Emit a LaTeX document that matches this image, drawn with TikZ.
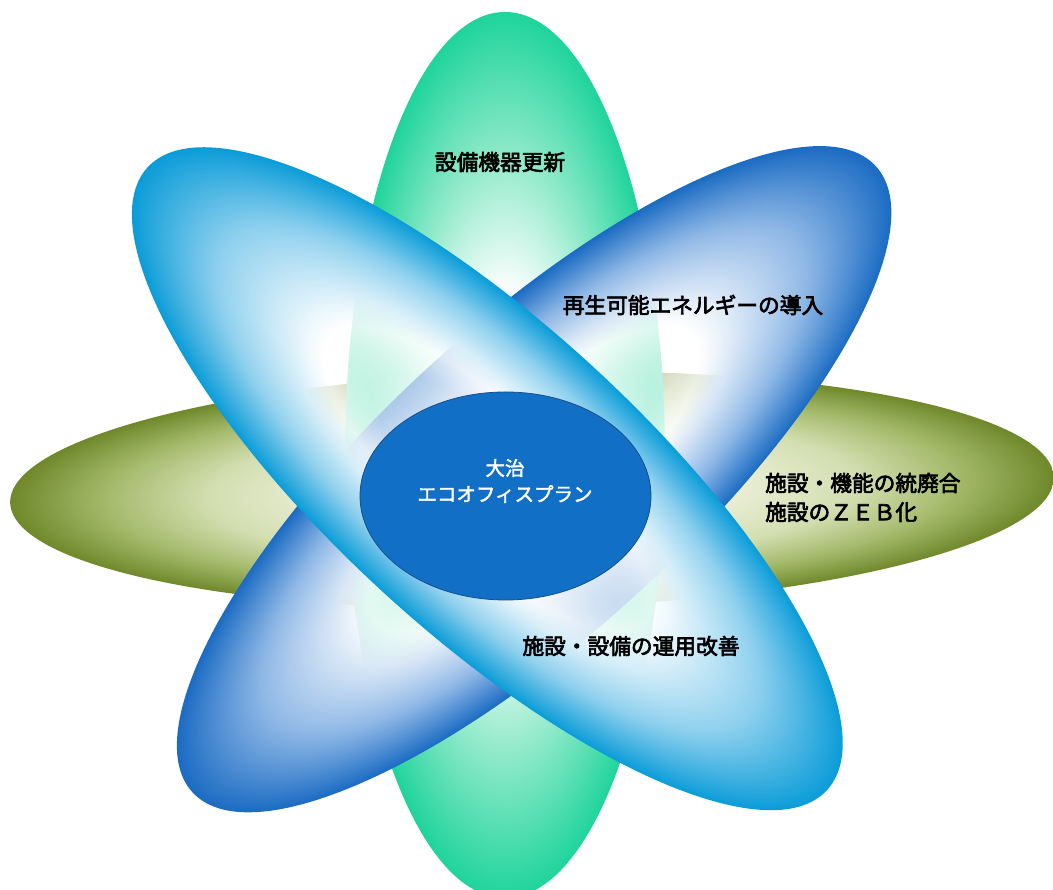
\documentclass[tikz,border=0pt]{standalone}
\usepackage{fontspec}
\setmainfont{Noto Sans CJK JP}
\newfontfamily\capfont{Noto Sans CJK JP}[FakeBold=3]
\newfontfamily\hubfont{Noto Sans CJK JP}[FakeBold=2]
\usetikzlibrary{fadings,shapes.geometric}

% petal colours
\definecolor{oliveedge}{HTML}{6F882A}
\definecolor{olivemid}{HTML}{A3B96A}
\definecolor{olivelight}{HTML}{D3DEB0}
\definecolor{olivecore}{HTML}{EEF1DD}
\definecolor{tealedge}{HTML}{1FD49B}
\definecolor{tealmid}{HTML}{8EE9C9}
\definecolor{backedge}{HTML}{1A6BC3}
\definecolor{backmid}{HTML}{8FB8E6}
\definecolor{frontedge}{HTML}{0A9CD8}
\definecolor{frontmid}{HTML}{8ED0EE}
\definecolor{hubfill}{HTML}{1170C6}
\definecolor{hubline}{HTML}{154F8C}
\colorlet{seethrough}{black}

% radial shadings: 25bp is the rim of the filled path
\pgfdeclareradialshading{olivepetal}{\pgfpointorigin}{%
  color(0bp)=(olivecore); color(10bp)=(olivecore!80!olivelight);
  color(15.5bp)=(olivelight); color(20.5bp)=(olivemid);
  color(25bp)=(oliveedge); color(50bp)=(oliveedge)}
\pgfdeclareradialshading{tealpetal}{\pgfpointorigin}{%
  color(0bp)=(white); color(9bp)=(white);
  color(17bp)=(tealmid); color(25bp)=(tealedge); color(50bp)=(tealedge)}
\pgfdeclareradialshading{backpetal}{\pgfpointorigin}{%
  color(0bp)=(white); color(11.5bp)=(white);
  color(19bp)=(backmid); color(25bp)=(backedge); color(50bp)=(backedge)}
\pgfdeclareradialshading{frontpetal}{\pgfpointorigin}{%
  color(0bp)=(white); color(11.5bp)=(white);
  color(19bp)=(frontmid); color(25bp)=(frontedge); color(50bp)=(frontedge)}

% the pale core of the blue petals lets the petals below shine through
\pgfdeclareradialshading{glassmask}{\pgfpointorigin}{%
  color(0bp)=(seethrough!45); color(8bp)=(seethrough!35);
  color(14bp)=(seethrough!0); color(50bp)=(seethrough!0)}
\pgfdeclarefading{glasscore}{\pgfuseshading{glassmask}}

\tikzset{
  label text/.style={text=black, font=\capfont\fontsize{21.7}{29}\selectfont, inner sep=0pt},
  hub text/.style={text=white, font=\hubfont\fontsize{19.5}{26}\selectfont, align=center, inner sep=0pt},
}

\begin{document}
\begin{tikzpicture}[x=1pt, y=1pt]
  \useasboundingbox (0,0) rectangle (1053,890);

  % horizontal olive petal
  \begin{scope}[transform canvas={shift={(532,400)}, rotate=1.4}]
    \shade[shading=olivepetal] (0,0) ellipse [x radius=522, y radius=118];
  \end{scope}

  % vertical teal petal
  \begin{scope}[transform canvas={shift={(505,435)}}]
    \shade[shading=tealpetal] (0,0) ellipse [x radius=160, y radius=443];
  \end{scope}

  % blue petal rising to the right
  \begin{scope}[transform canvas={shift={(535,411.5)}, rotate=42.5}]
    \shade[shading=backpetal, path fading=glasscore] (0,0) ellipse [x radius=464, y radius=154];
  \end{scope}

  % blue petal falling to the right, in front
  \begin{scope}[transform canvas={shift={(487.5,411)}, rotate=-42.5}]
    \shade[shading=frontpetal, path fading=glasscore] (0,0) ellipse [x radius=461, y radius=154];
  \end{scope}

  % central hub
  \node (hub) [ellipse, draw=hubline, line width=0.8pt, fill=hubfill,
               minimum width=291, minimum height=208, inner sep=0pt] at (505.5,394) {};
  \node (hubtext) [hub text] at (505,409) {大治\\エコオフィスプラン};

  % petal captions
  \node (equip)   [label text] at (500,728) {設備機器更新};
  \node (renew)   [label text] at (693,585) {再生可能エネルギーの導入};
  \node (merge)   [label text, align=left, anchor=west] at (765,392.5)
        {施設・機能の統廃合\\施設のＺＥＢ化};
  \node (operate) [label text] at (631,244) {施設・設備の運用改善};
\end{tikzpicture}
\end{document}
